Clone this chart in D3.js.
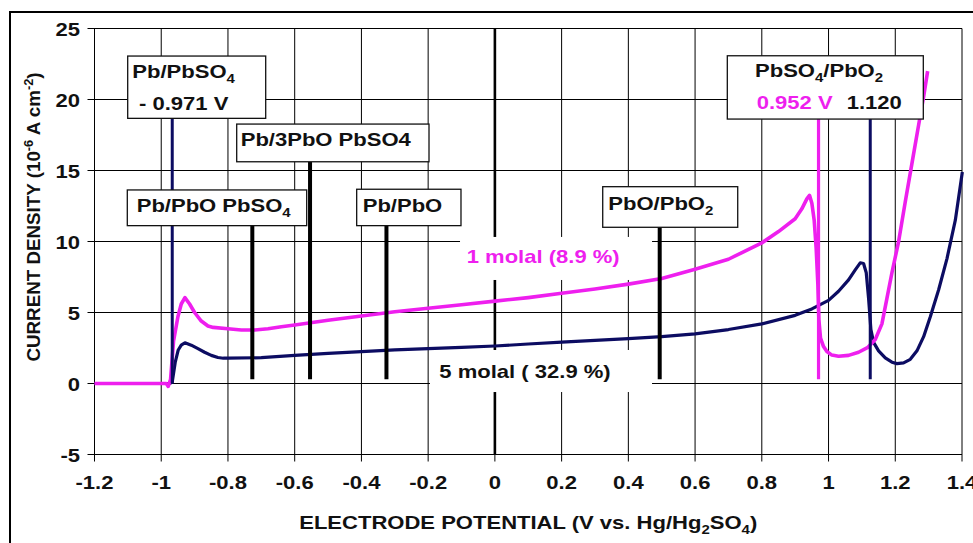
<!DOCTYPE html>
<html><head><meta charset="utf-8">
<script src="https://cdn.jsdelivr.net/npm/d3@7"></script>
<style>
body{margin:0;background:#fff}
text{font-family:"Liberation Sans",Arial,Helvetica,sans-serif;font-weight:bold}
</style>
</head><body>
<svg id="chart" width="973" height="543"></svg>
<script>
// ---------------- DATA ----------------
const xTicks = [-1.2,-1,-0.8,-0.6,-0.4,-0.2,0,0.2,0.4,0.6,0.8,1,1.2,1.4];
const xTickLabels = ["-1.2","-1","-0.8","-0.6","-0.4","-0.2","0","0.2","0.4","0.6","0.8","1","1.2","1.4"];
const yTicks = [-5,0,5,10,15,20,25];
const yTickLabels = ["-5","0","5","10","15","20","25"];

// 1 molal (8.9 %)
const molal1V = [-1.2,-1.1,-1.0,-0.985,-0.979,-0.972,-0.963,-0.95,-0.94,-0.929,-0.915,-0.9,-0.88,-0.86,-0.844,-0.8,-0.76,-0.72,-0.68,-0.64,-0.6,-0.5,-0.4,-0.3,-0.2,-0.1,0,0.1,0.2,0.3,0.4,0.5,0.6,0.7,0.8,0.85,0.9,0.92,0.935,0.943,0.95,0.957,0.963,0.968,0.971,0.976,0.985,0.995,1.01,1.03,1.06,1.09,1.118,1.14,1.16,1.175,1.19,1.21,1.23,1.25,1.27,1.285,1.297];
const molal1I = [0,0,0,0,-0.2,0.3,3.0,4.7,5.6,6.05,5.6,5.0,4.4,4.05,3.95,3.85,3.77,3.77,3.85,4.0,4.12,4.45,4.75,5.05,5.3,5.55,5.8,6.05,6.35,6.65,7.0,7.4,8.05,8.75,9.9,10.7,11.6,12.3,13.0,13.25,12.7,11.5,9.5,7.0,4.5,3.2,2.6,2.25,2.0,1.92,1.98,2.2,2.55,3.1,4.2,6.0,7.8,10.0,12.8,15.5,18.2,20.2,22.0];

// 5 molal (32.9 %)
const molal5V = [-1.2,-1.0,-0.975,-0.967,-0.958,-0.949,-0.94,-0.929,-0.91,-0.89,-0.87,-0.85,-0.83,-0.814,-0.8,-0.7,-0.6,-0.5,-0.4,-0.3,-0.2,-0.1,0,0.1,0.2,0.3,0.4,0.5,0.6,0.7,0.8,0.9,0.95,1.0,1.03,1.06,1.08,1.095,1.105,1.113,1.12,1.127,1.135,1.15,1.17,1.19,1.205,1.225,1.245,1.265,1.285,1.305,1.33,1.355,1.38,1.401];
const molal5I = [0,0,0,0.1,1.5,2.36,2.7,2.87,2.7,2.45,2.2,1.98,1.83,1.78,1.78,1.82,1.98,2.12,2.25,2.37,2.46,2.55,2.64,2.78,2.92,3.04,3.16,3.3,3.5,3.8,4.2,4.8,5.25,5.85,6.5,7.3,8.0,8.5,8.45,7.8,6.0,3.8,2.9,2.3,1.8,1.5,1.4,1.45,1.7,2.3,3.3,4.7,6.6,8.8,11.5,14.9];

// equilibrium potential markers
const markerNames = ["Pb/PbSO4 5m","Pb/PbO PbSO4","Pb/3PbO PbSO4","Pb/PbO","PbO/PbO2","PbSO4/PbO2 1m","PbSO4/PbO2 5m"];
const markerV     = [-0.967,-0.727,-0.554,-0.325,0.494,0.970,1.125];
const markerLow   = [0,0.3,0.3,0.3,0.3,0.3,0.3];
const markerHigh  = [18.9,11.4,15.6,11.1,11.0,18.8,18.8];

// ---------------- LAYOUT ----------------
const W = 973, H = 543;
const SX = 1.16;       // horizontal stretch of the original picture
const FS = 19;
const svg = d3.select("#chart");
svg.append("rect").attr("width",W).attr("height",H).attr("fill","#fff");

const x = d3.scaleLinear().domain([-1.2,1.4]).range([94.5,962]);
const y = d3.scaleLinear().domain([-5,25]).range([454.5,28.5]);

const C1 = "#ee1fee", C5 = "#0c0c62";
const markerColor = {"Pb/PbSO4 5m":C5,"PbSO4/PbO2 1m":C1,"PbSO4/PbO2 5m":C5};
const markerWidth = {"Pb/PbSO4 5m":3,"PbSO4/PbO2 1m":3.2,"PbSO4/PbO2 5m":3};

// outer frame
svg.append("path").attr("d","M10,545 L10,12 L975,12").attr("fill","none").attr("stroke","#000").attr("stroke-width",2);

function stext(g, px, py, anchor, size){
  return g.append("text")
    .attr("transform",`translate(${px},${py}) scale(${SX},1)`)
    .attr("text-anchor",anchor||"start")
    .attr("font-size",size||FS);
}
function rich(t, parts, size){
  let shift = 0;
  parts.forEach(([s,type])=>{
    const target = type==="sub" ? 5 : type==="sup" ? -7 : 0;
    const sp = t.append("tspan").text(s).attr("dy", target-shift);
    if(type) sp.attr("font-size", size*0.68);
    shift = target;
  });
}

// grid
const grid = svg.append("g").attr("stroke","#000").attr("stroke-width",1);
grid.selectAll(".vx").data(xTicks).join("line")
  .attr("x1",d=>x(d)).attr("x2",d=>x(d)).attr("y1",y(-5)+7).attr("y2",y(25));
grid.selectAll(".hy").data(yTicks).join("line")
  .attr("x1",x(-1.2)-7).attr("x2",x(1.4)).attr("y1",d=>y(d)).attr("y2",d=>y(d));
// heavy zero line
svg.append("line").attr("x1",x(0)).attr("x2",x(0)).attr("y1",y(-5)).attr("y2",y(25))
  .attr("stroke","#000").attr("stroke-width",2.6);

// axis tick labels
const axG = svg.append("g").attr("fill","#111");
xTicks.forEach((v,i)=> stext(axG, x(v), 488.5, "middle").text(xTickLabels[i]));
yTicks.forEach((v,i)=> stext(axG, 80, y(v)+7, "end").text(yTickLabels[i]));

// axis titles
const xt = stext(axG, (x(-1.2)+x(1.4))/2, 529, "middle");
rich(xt, [["ELECTRODE POTENTIAL (V vs. Hg/Hg"],["2","sub"],["SO"],["4","sub"],[")"]], FS);
const yt = axG.append("text").attr("transform","translate(40,217) rotate(-90)")
  .attr("text-anchor","middle").attr("font-size",18.8);
rich(yt, [["CURRENT DENSITY  (10"],["-6","sup"],[" A cm"],["-2","sup"],[")"]], 18.8);

// series labels with white backgrounds
const lab = svg.append("g");
lab.append("rect").attr("x",x(-0.1045)).attr("y",y(10.32)).attr("width",x(0.471)-x(-0.1045)).attr("height",y(7.29)-y(10.32)).attr("fill","#fff");
lab.append("rect").attr("x",x(-0.1945)).attr("y",y(2.36)).attr("width",x(0.471)-x(-0.1945)).attr("height",y(-0.6)-y(2.36)).attr("fill","#fff");
stext(lab, x(-0.0845), y(8.49)).attr("fill",C1).text("1 molal (8.9 %)");
stext(lab, x(-0.1666), y(0.366)).attr("fill","#111").text("5 molal ( 32.9 %)");

// curves
const line = d3.line().x(d=>x(d[0])).y(d=>y(d[1]));
svg.append("path").datum(d3.zip(molal5V, molal5I)).attr("d",line)
  .attr("fill","none").attr("stroke",C5).attr("stroke-width",3.2).attr("stroke-linejoin","round");
svg.append("path").datum(d3.zip(molal1V, molal1I)).attr("d",line)
  .attr("fill","none").attr("stroke",C1).attr("stroke-width",3.6).attr("stroke-linejoin","round");

// marker lines
svg.append("g").selectAll("line").data(markerNames).join("line")
  .attr("x1",(d,i)=>x(markerV[i])).attr("x2",(d,i)=>x(markerV[i]))
  .attr("y1",(d,i)=>y(markerLow[i])).attr("y2",(d,i)=>y(markerHigh[i]))
  .attr("stroke",d=>markerColor[d]||"#000").attr("stroke-width",d=>markerWidth[d]||4);

// annotation boxes (anchored in data space: left V, top current; size in px)
const boxes = [
  {v:-1.1005, c:23.06, w:138, h:62.3, lines:[
     {dx:4.6, dy:22, parts:[["Pb/PbSO"],["4","sub"]]},
     {dx:11.3, dy:54, parts:[["- 0.971 V"]]}]},
  {v:-0.7738, c:18.27, w:192.3, h:37.7, lines:[{dx:4, dy:22, parts:[["Pb/3PbO PbSO4"]]}]},
  {v:-1.1017, c:13.63, w:179.4, h:35.7, lines:[{dx:9.4, dy:22.3, parts:[["Pb/PbO PbSO"],["4","sub"]]}]},
  {v:-0.4142, c:13.68, w:104.3, h:36.4, lines:[{dx:6, dy:22.4, parts:[["Pb/PbO"]]}]},
  {v:0.3232,  c:13.86, w:135, h:40.6, lines:[{dx:5.6, dy:23.3, parts:[["PbO/PbO"],["2","sub"]]}]},
  {v:0.6966,  c:23.08, w:196, h:63.3, lines:[
     {dx:27.7, dy:21, parts:[["PbSO"],["4","sub"],["/PbO"],["2","sub"]]},
     {dx:29.4, dy:53.6, parts:[["0.952 V"]], color:C1},
     {dx:119.4, dy:53.6, parts:[["1.120"]]}]}
];
const bg = svg.append("g");
boxes.forEach(b=>{
  const bx = x(b.v), by = y(b.c);
  bg.append("rect").attr("x",bx).attr("y",by).attr("width",b.w).attr("height",b.h)
    .attr("fill","#fff").attr("stroke","#111").attr("stroke-width",1.3);
  b.lines.forEach(l=>{
    const t = stext(bg, bx+l.dx, by+l.dy).attr("fill", l.color||"#111");
    rich(t, l.parts, FS);
  });
});
</script>
</body></html>
